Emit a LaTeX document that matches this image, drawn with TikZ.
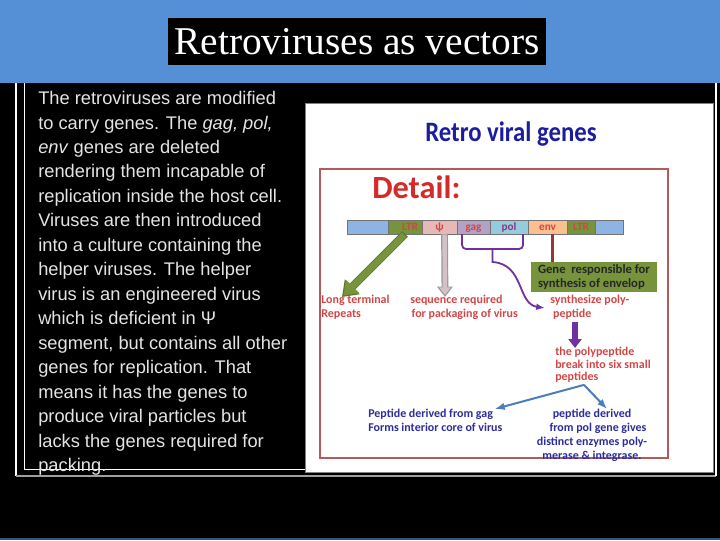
\documentclass[tikz,border=0pt]{standalone}
\usepackage{fontspec}
\usepackage{graphicx}
\setmainfont{Liberation Sans}
\newfontfamily\slidefont{Liberation Serif}
\newfontfamily\calfont{Carlito}
\usetikzlibrary{arrows.meta,positioning,calc}
\definecolor{band}{HTML}{558FD5}
\definecolor{paper}{HTML}{E4E4E4}
\definecolor{ltrgreen}{HTML}{77933C}
\definecolor{endblue}{HTML}{8DB4E2}
\definecolor{psipink}{HTML}{E6B9B8}
\definecolor{gaglav}{HTML}{B3A2C7}
\definecolor{polblue}{HTML}{93CDDD}
\definecolor{envpeach}{HTML}{FAC090}
\definecolor{labred}{HTML}{D24646}
\definecolor{detred}{HTML}{D42A2A}
\definecolor{labblue}{HTML}{2D2D9B}
\definecolor{headblue}{HTML}{1C1CA0}
\definecolor{framered}{HTML}{B35A5A}
\definecolor{purp}{HTML}{7030A0}
\definecolor{envbrown}{HTML}{953735}
\definecolor{steel}{HTML}{4A7EBB}
\definecolor{psigrey}{HTML}{D3C1C5}

\begin{document}
\begin{tikzpicture}[x=0.025cm,y=-0.025cm,>=Latex,
 seg/.style={draw=black!55,line width=0.4pt,minimum height=0.35cm,inner sep=0,outer sep=0,
   text height=5.6pt,text depth=1.2pt,
   font=\calfont\bfseries\fontsize{8}{8}\selectfont,text=labred},
 lab/.style={font=\calfont\bfseries\fontsize{8.5}{10}\selectfont,text=labred,align=left,inner sep=0},
 blab/.style={lab,text=labblue},
 fat/.style={line width=0.16cm,-{Triangle[width=0.45cm,length=0.32cm]}}]
\useasboundingbox (0,0) rectangle (720,540);
% slide background
\fill[band] (0,0) rectangle (720,83);
\fill[black] (0,83) rectangle (720,540);
\fill[band!60!black] (0,538) rectangle (720,540);
\node[fill=black,text=white,font=\slidefont\fontsize{28}{30}\selectfont,minimum width=9.45cm,minimum height=1.175cm,inner sep=0] (title) at (357,41.5) {Retroviruses as vectors};
\draw[white,line width=0.04cm] (16,83) -- (16,476);
\draw[white,line width=0.025cm] (24,83) -- (24,469) -- (305,469);
\draw[gray!75,line width=0.06cm] (16,476) -- (716,476);
\draw[white,line width=0.04cm] (716,83) -- (716,476);
% left text
\node[font=\fontsize{13}{17.4}\selectfont,text=paper,align=left,anchor=north west,inner sep=0] (intro) at (38,91)
 {The retroviruses are modified\\to carry genes. The \textit{gag, pol,}\\\textit{env} genes are deleted\\rendering them incapable of\\replication inside the host cell.\\Viruses are then introduced\\into a culture containing the\\helper viruses. The helper\\virus is an engineered virus\\which is deficient in Ψ\\segment, but contains all other\\genes for replication. That\\means it has the genes to\\produce viral particles but\\lacks the genes required for\\packing.};
% picture panel
\fill[white,draw=gray] (305,103) rectangle (713,472);
\node[font=\calfont\bfseries\fontsize{20}{22}\selectfont,text=headblue] (head) at (511,134) {\scalebox{0.88}[1]{Retro viral genes}};
\draw[framered,line width=0.03cm] (320,169) rectangle (668,458);
\node[font=\calfont\bfseries\fontsize{23}{25}\selectfont,text=detred,anchor=west,inner sep=0] (detail) at (372,187) {Detail:};
% gene bar
\node[seg,fill=endblue,minimum width=1.025cm,anchor=north west] (endL) at (347,220) {};
\node[seg,fill=ltrgreen,minimum width=0.85cm,right=0pt of endL] (ltrA) {\hspace*{0.25cm}LTR};
\node[seg,fill=psipink,minimum width=0.875cm,right=0pt of ltrA] (psi) {ψ};
\node[seg,fill=gaglav,minimum width=0.825cm,right=0pt of psi] (gag) {gag};
\node[seg,fill=polblue,minimum width=0.95cm,right=0pt of gag] (pol) {\textcolor{purp!70!labred}{pol}};
\node[seg,fill=envpeach,minimum width=0.975cm,right=0pt of pol] (env) {env};
\node[seg,fill=ltrgreen,minimum width=0.7cm,right=0pt of env] (ltrB) {LTR};
\node[seg,fill=endblue,minimum width=0.7cm,right=0pt of ltrB] (endR) {};
% labels
\node[lab,anchor=north west] (ltrlab) at (321,295) {Long terminal\\Repeats};
\node[lab,anchor=north west] (seqlab) at (410,295) {sequence required\\\hspace*{1pt}for packaging of virus};
\node[lab,anchor=north west] (synlab) at (550,295) {synthesize poly-\\\hspace*{2pt}peptide};
\node[fill=ltrgreen,minimum width=3.15cm,minimum height=0.75cm,inner sep=0,align=left,
  font=\calfont\bfseries\fontsize{9}{10.5}\selectfont,text=black!85] (envbox) at (594,277) {Gene\ \ responsible for\\synthesis of envelop};
\node[lab,anchor=north west,font=\calfont\bfseries\fontsize{8.5}{8.9}\selectfont] (polylab) at (555,347) {the polypeptide\\break into six small\\peptides};
\node[blab,anchor=north west] (gaglab) at (368,409) {Peptide derived from gag\\Forms interior core of virus};
\node[blab,anchor=north,align=center] (pollab) at (592,409) {peptide derived\\\hspace*{0.3cm}from pol gene gives\\distinct enzymes poly-\\merase \& integrase.};
% connectors
\draw[fat,ltrgreen!80!black,line width=0.2cm,-{Triangle[width=0.5cm,length=0.36cm]}] (ltrA.south) -- ($(ltrlab.north west)+(21,2)$);
\draw[fat,ltrgreen] ($(ltrA.south)+(-1,1)$) -- ($(ltrlab.north west)+(22.5,0.5)$);
\draw[gray!80,line width=0.17cm,-{Triangle[width=0.38cm,length=0.26cm]}] ($(psi.south)+(5,0)$) -- ($(seqlab.north west)+(35,2)$);
\draw[psigrey,line width=0.11cm,-{Triangle[width=0.28cm,length=0.19cm]}] ($(psi.south)+(5,0.5)$) -- ($(seqlab.north west)+(35,0)$);
\coordinate (brL) at ($(gag.south west)+(5,0)$);
\coordinate (brR) at ($(pol.south east)+(-5,0)$);
\draw[purp,line width=0.045cm,rounded corners=0.1cm] (brL) -- ++(0,15) -| (brR);
\coordinate (brtip) at ($(brL)!0.5!(brR)+(0,15)$);
\draw[purp,line width=0.045cm,-{Latex[length=0.22cm]}] (brtip) -- ++(0,13) .. controls +(32,2) and +(-28,-4) .. ($(synlab.north west)+(-5,13)$);
\coordinate (envfoot) at ($(env.south)+(5,0)$);
\draw[envbrown,line width=0.08cm] (envfoot) -- (envfoot |- envbox.north);
\draw[purp,line width=0.15cm,-{Triangle[width=0.32cm,length=0.22cm]}] ($(synlab.south west)+(25,2)$) -- ($(polylab.north west)+(20,1)$);
\draw[steel,line width=0.05cm,-{Latex[length=0.25cm]}] ($(polylab.south west)+(29,2)$) -- ($(gaglab.north east)+(-8,0)$);
\draw[steel,line width=0.05cm,-{Latex[length=0.25cm]}] ($(polylab.south west)+(29,2)$) -- ($(pollab.north)+(15,0)$);
\end{tikzpicture}
\end{document}
